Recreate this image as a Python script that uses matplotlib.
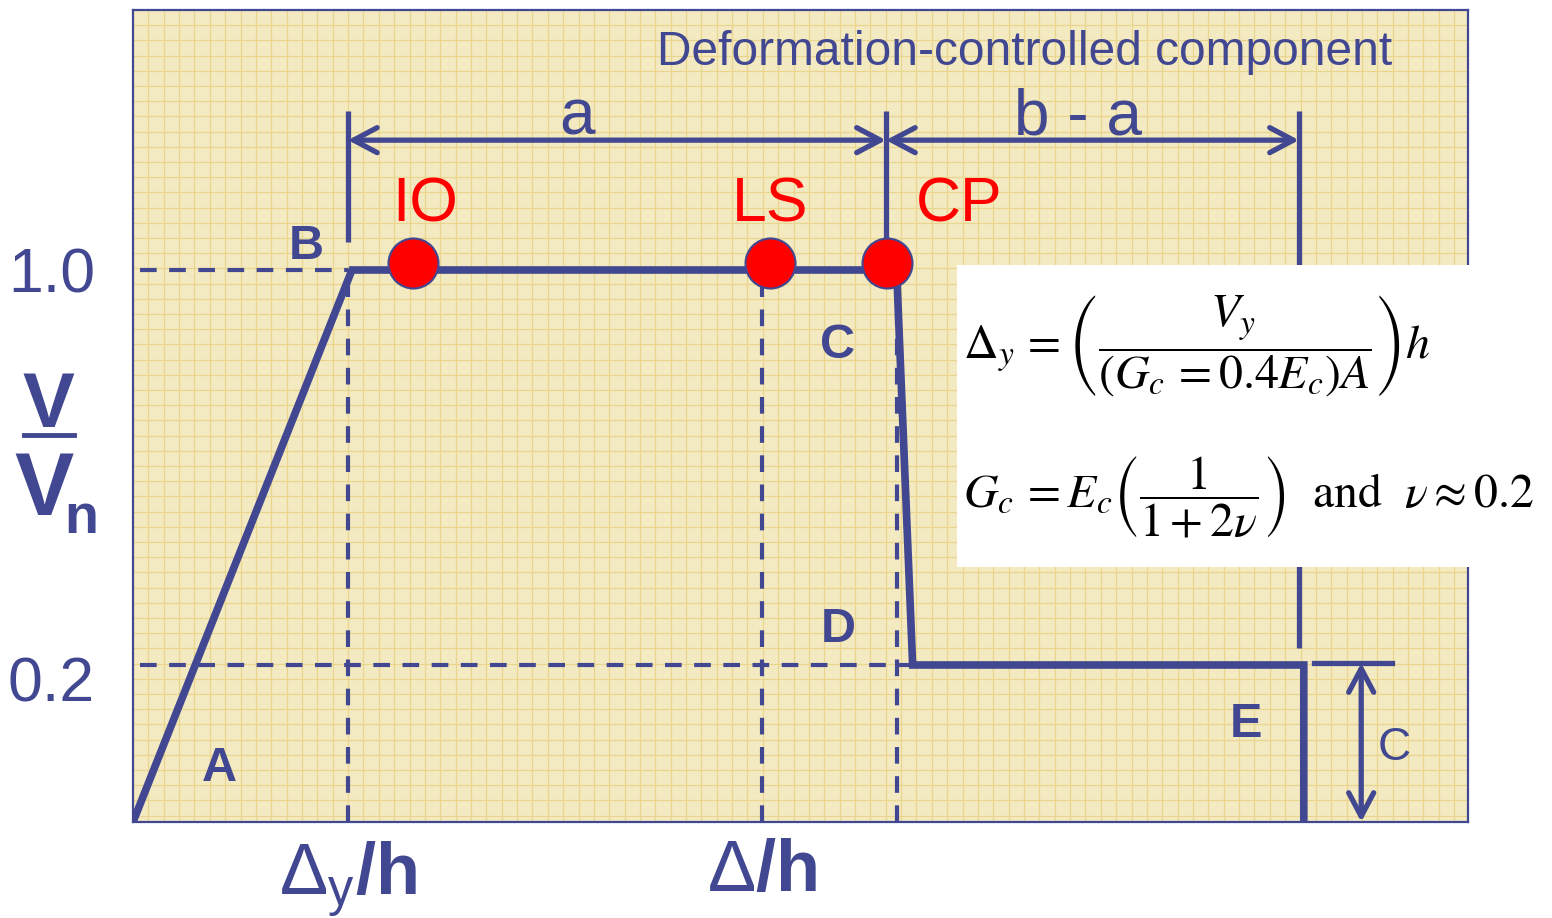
import numpy as np
import matplotlib
matplotlib.use("Agg")
import matplotlib.pyplot as plt
from matplotlib.patches import Rectangle
from matplotlib.lines import Line2D

plt.rcParams['font.family'] = ['Liberation Sans', 'DejaVu Sans']
plt.rcParams['mathtext.fontset'] = 'custom'
plt.rcParams['mathtext.rm'] = 'Liberation Sans'
plt.rcParams['mathtext.it'] = 'Liberation Sans:italic'
plt.rcParams['mathtext.bf'] = 'Liberation Sans:bold'

BLUE = '#414790'
RED = '#ff0000'
BG = '#f4eac1'
GRID = '#ead58e'

# backbone curve A-B-C-D-E (drift units, V/Vn)
drift = [0.0, 16.4, 57.2, 58.4, 87.7, 87.7]
force = [-0.118, 1.0, 1.0, 0.2, 0.2, -0.118]
point_names = ['A', 'B', 'C', 'D', 'E']
name_x = [6.5, 13.0, 52.8, 52.8, 83.4]
name_y = [-0.009, 1.047, 0.848, 0.271, 0.080]

# performance levels
perf_labels = ['IO', 'LS', 'CP']
perf_x = [21.0, 47.7, 56.5]
perf_y = [1.015, 1.015, 1.015]
perf_label_x = [21.9, 47.7, 61.9]
perf_label_y = 1.132

# guide lines
guide_x = [16.1, 47.1, 57.2]
guide_y = [0.2, 1.0]
guide_y_end = [58.4, 16.1]
ytick_labels = ['0.2', '1.0']
ytick_label_y = [0.16, 0.988]
xtick_labels = [r'$\Delta_\mathrm{y}\mathbf{/h}$', r'$\Delta\mathbf{/h}$']

# dimension marks
dim_x = [16.1, 56.4, 87.34]
dim_top = 1.322
dim_bottom = [1.057, 1.04, 0.234]
dim_arrow_y = 1.263
dim_labels = ['a', 'b - a']
dim_label_x = [33.3, 70.8]
residual = 0.2
xlim = (0, 100)
ylim = (-0.118, 1.5266)

fig = plt.figure(figsize=(15.52, 9.18), dpi=100)
ax = fig.add_axes([133 / 1552, 96 / 918, 1335 / 1552, 812 / 918])
ax.set_facecolor(BG)
ax.set_xlim(*xlim)
ax.set_ylim(*ylim)

# graph-paper grid (about 15 px cells)
for gx in np.arange(xlim[0], xlim[1], 100 / 86.9)[1:]:
    ax.axvline(gx, color=GRID, lw=0.9, zorder=0)
for gy in np.arange(ylim[1], ylim[0], -15.2 / 493.75)[1:]:
    ax.axhline(gy, color=GRID, lw=0.9, zorder=0)

for sp in ax.spines.values():
    sp.set_color(BLUE)
    sp.set_linewidth(1.6)

# ticks
ax.set_yticks(guide_y, [])
ax.tick_params(axis='y', length=0)
for lab, ly in zip(ytick_labels, ytick_label_y):
    ax.text(-0.0285, ly, lab, transform=ax.get_yaxis_transform(), color=BLUE,
            fontsize=45, ha='right', va='center', clip_on=False)
ax.set_xticks(guide_x[:2], xtick_labels)
ax.tick_params(axis='x', length=0, pad=12, labelsize=52, labelcolor=BLUE)

# dashed guides
dash = dict(color=BLUE, lw=3, ls=(0, (4, 3)), zorder=2)
for gx in guide_x:
    ax.plot([gx, gx], [ylim[0], 1.0], **dash)
for gy, ge in zip(guide_y, guide_y_end):
    ax.plot([0.5, ge], [gy, gy], **dash)

# backbone
ax.plot(drift, force, color=BLUE, lw=5.5, solid_joinstyle='miter', zorder=3)

# performance points
ax.scatter(perf_x, perf_y, s=36 ** 2, color=RED, edgecolor=BLUE, lw=1.5, zorder=6)
for lab, lx in zip(perf_labels, perf_label_x):
    ax.text(lx, perf_label_y, lab, color=RED, fontsize=45, ha='center', va='center')

for nm, nx, ny in zip(point_names, name_x, name_y):
    ax.text(nx, ny, nm, color=BLUE, fontsize=35, fontweight='bold', ha='center', va='center')

# dimension lines a and b - a
for dx, db in zip(dim_x, dim_bottom):
    ax.plot([dx, dx], [dim_top, db], color=BLUE, lw=3.8, zorder=4, solid_capstyle='butt')
arrow = dict(arrowstyle='<->,head_length=0.85,head_width=0.45', lw=3.8, color=BLUE,
             shrinkA=0, shrinkB=0, mutation_scale=20, capstyle='round')
ax.annotate('', xy=(dim_x[1], dim_arrow_y), xytext=(dim_x[0], dim_arrow_y), arrowprops=arrow)
ax.annotate('', xy=(dim_x[2], dim_arrow_y), xytext=(dim_x[1], dim_arrow_y), arrowprops=arrow)
for lab, lx in zip(dim_labels, dim_label_x):
    ax.text(lx, 1.308, lab, color=BLUE, fontsize=46, ha='center', va='center')

# residual strength C
ax.plot([88.5, 94.3], [residual + 0.004, residual + 0.004], color=BLUE, lw=3.8, zorder=4)
ax.annotate('', xy=(92.0, ylim[0]), xytext=(92.0, residual + 0.004), arrowprops=arrow)
ax.text(94.5, 0.032, 'C', color=BLUE, fontsize=33, ha='center', va='center')

ax.text(66.8, 1.440, 'Deformation-controlled component', color=BLUE, fontsize=34.5,
        ha='center', va='center')

# formula box
ax.add_patch(Rectangle((0.617, 0.314), 0.3845, 0.372, transform=ax.transAxes,
                       facecolor='white', edgecolor='none', zorder=7, clip_on=False))
ax.text(0.6217, 0.587,
        r'$\Delta_y\,=\left(\dfrac{V_y}{\left(G_c\,=0.4E_c\right)A}\right)h$',
        transform=ax.transAxes, math_fontfamily='stix', fontsize=34.5,
        ha='left', va='center', zorder=8)
ax.text(0.6217, 0.400,
        r'$G_c\,=E_c\left(\dfrac{1}{1+2\nu}\right)\ \ \mathrm{and}\ \ \nu \approx 0.2$',
        transform=ax.transAxes, math_fontfamily='stix', fontsize=34.5,
        ha='left', va='center', zorder=8)

# V / Vn label
fig.text(48 / 1552, 1 - 427 / 918, 'V', color=BLUE, fontsize=56, fontweight='bold',
         ha='center', va='baseline')
fig.add_artist(Line2D([24 / 1552, 74 / 1552], [1 - 435 / 918, 1 - 435 / 918],
                      color=BLUE, lw=3.5, transform=fig.transFigure))
fig.text(44 / 1552, 1 - 515 / 918, 'V', color=BLUE, fontsize=64, fontweight='bold',
         ha='center', va='baseline')
fig.text(81 / 1552, 1 - 533 / 918, 'n', color=BLUE, fontsize=40, fontweight='bold',
         ha='center', va='baseline')

fig.savefig('out.png', dpi=100, facecolor='white')
